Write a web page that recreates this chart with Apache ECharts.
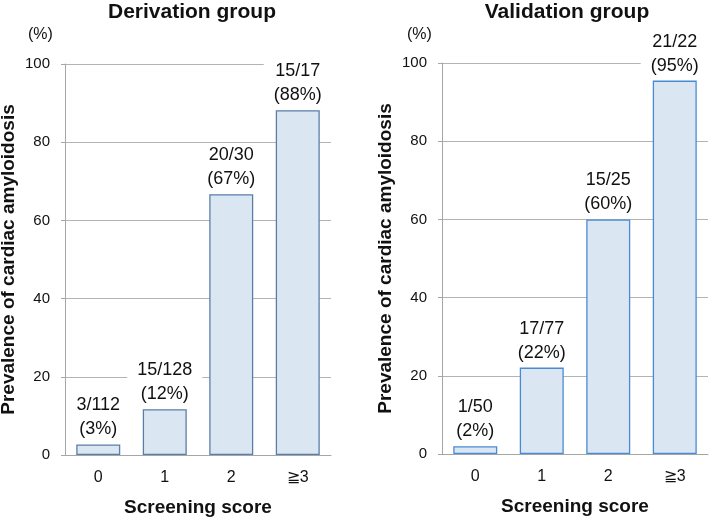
<!DOCTYPE html>
<html><head><meta charset="utf-8">
<script src="https://cdn.jsdelivr.net/npm/echarts@6/dist/echarts.min.js"></script>
<style>html,body{margin:0;padding:0;background:#fff}#c{width:709px;height:519px}</style>
</head><body><div id="c"></div>
<script>
const categories = ['0', '1', '2', '≧3'];
const derivationValues = [2.7, 11.7, 66.7, 88.2];
const derivationLabels = ['3/112\n(3%)', '15/128\n(12%)', '20/30\n(67%)', '15/17\n(88%)'];
const validationValues = [2.0, 22.1, 60.0, 95.5];
const validationLabels = ['1/50\n(2%)', '17/77\n(22%)', '15/25\n(60%)', '21/22\n(95%)'];
const yTicks = [0, 20, 40, 60, 80, 100];
const titles = ['Derivation group', 'Validation group'];

const FONT = '"Liberation Sans", Arial, sans-serif';
const chart = echarts.init(document.getElementById('c'), null, {renderer: 'canvas'});

function xAxis(gi) {
  return {
    type: 'category', gridIndex: gi, data: categories,
    axisLine: {show: true, lineStyle: {color: '#a6a6a6', width: 1}},
    axisTick: {show: false},
    axisLabel: {color: '#111', fontFamily: FONT, fontSize: 16, margin: 15},
    name: 'Screening score', nameLocation: 'middle', nameGap: 43,
    nameTextStyle: {color: '#111', fontFamily: FONT, fontSize: 19, fontWeight: 'bold'}
  };
}
function yAxis(gi) {
  return {
    type: 'value', gridIndex: gi, min: yTicks[0], max: yTicks[yTicks.length - 1], interval: 20,
    axisLine: {show: true, lineStyle: {color: '#a6a6a6', width: 1}},
    axisTick: {show: true, length: 4, lineStyle: {color: '#a6a6a6'}},
    splitLine: {show: true, lineStyle: {color: '#b3b3b3', width: 1}},
    axisLabel: {color: '#111', fontFamily: FONT, fontSize: 15, margin: 15},
    name: 'Prevalence of cardiac amyloidosis', nameLocation: 'middle', nameRotate: 90, nameGap: 47,
    nameTextStyle: {color: '#111', fontFamily: FONT, fontSize: 19, fontWeight: 'bold'}
  };
}
function series(gi, values, labels, border) {
  return {
    type: 'bar', xAxisIndex: gi, yAxisIndex: gi, data: values, barWidth: 44,
    itemStyle: {color: '#dbe6f3', borderColor: border, borderWidth: 1.3},
    label: {
      show: true, position: 'top', distance: 3,
      formatter: p => labels[p.dataIndex],
      color: '#111', fontFamily: FONT, fontSize: 18, lineHeight: 24,
      backgroundColor: '#fff', padding: [0, 10, 0, 10]
    },
    silent: true
  };
}

chart.setOption({
  animation: false,
  backgroundColor: '#fff',
  title: [
    {text: titles[0], left: 187, top: -3, textAlign: 'center',
     textStyle: {fontFamily: FONT, fontSize: 21, fontWeight: 'bold', color: '#111'}},
    {text: titles[1], left: 562, top: -3, textAlign: 'center',
     textStyle: {fontFamily: FONT, fontSize: 21, fontWeight: 'bold', color: '#111'}}
  ],
  graphic: [
    {type: 'text', left: 28, top: 27, style: {text: '(%)', fontFamily: FONT, fontSize: 16, fill: '#111'}},
    {type: 'text', left: 407, top: 27, style: {text: '(%)', fontFamily: FONT, fontSize: 16, fill: '#111'}}
  ],
  grid: [
    {left: 65, right: 378, top: 64, bottom: 64, containLabel: false, outerBoundsMode: 'none'},
    {left: 442, right: 1, top: 63, bottom: 65, containLabel: false, outerBoundsMode: 'none'}
  ],
  xAxis: [xAxis(0), xAxis(1)],
  yAxis: [yAxis(0), yAxis(1)],
  series: [
    series(0, derivationValues, derivationLabels, '#5a7ea8'),
    series(1, validationValues, validationLabels, '#4a8ad4')
  ]
});
</script></body></html>
